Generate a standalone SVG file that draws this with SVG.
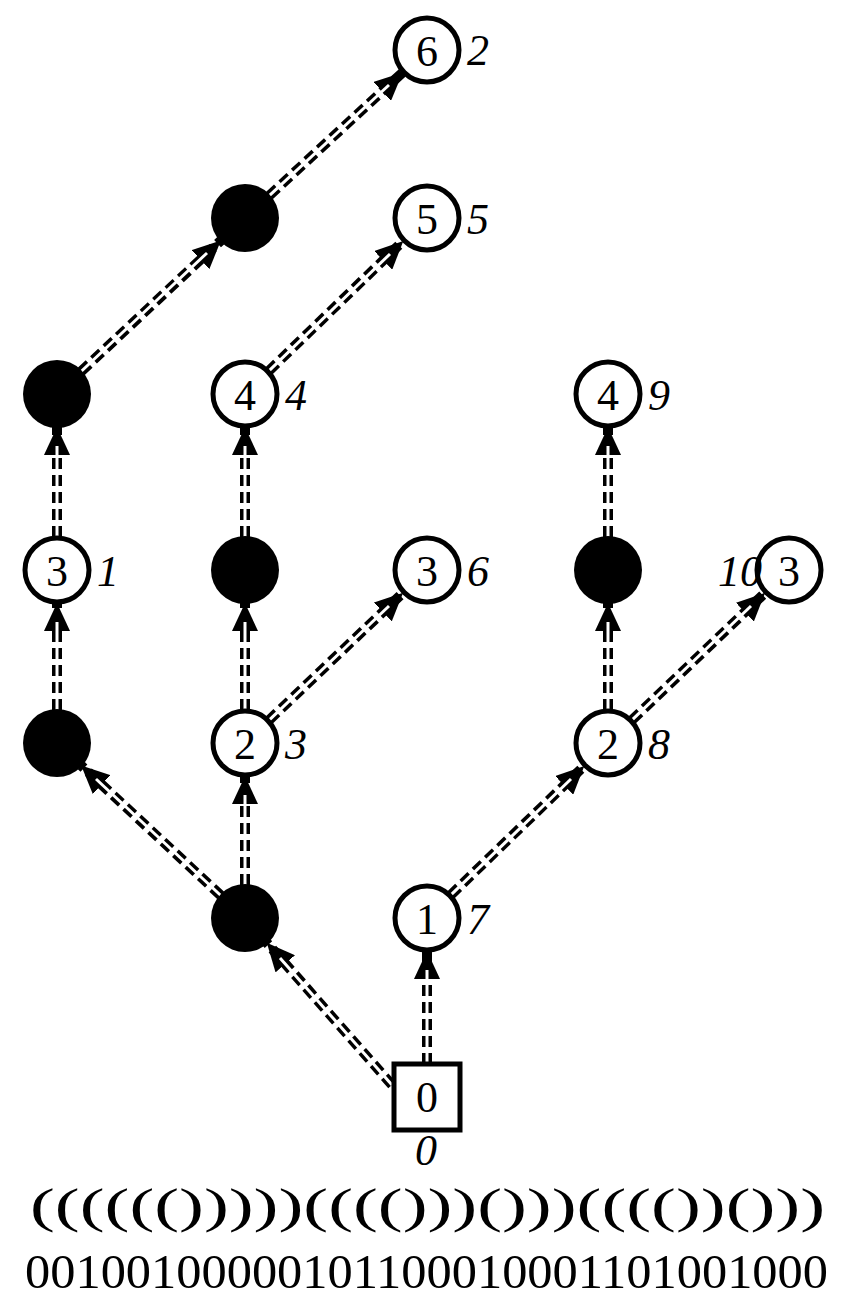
<svg xmlns="http://www.w3.org/2000/svg" width="848" height="1305" viewBox="0 0 848 1305">
<style>
.c{fill:#fff;stroke:#000;stroke-width:5}
.f{fill:#000}
.t{font-family:"Liberation Serif",serif;font-size:44px;text-anchor:middle}
.l{font-family:"Liberation Serif",serif;font-size:44px;font-style:italic}
.e{stroke:#000;stroke-width:10;stroke-dasharray:11 6;fill:none}
.w{stroke:#fff;stroke-width:3;fill:none}
</style>
<defs>
<marker id="a" markerUnits="userSpaceOnUse" markerWidth="30" markerHeight="26" refX="28" refY="13" orient="auto"><path d="M0,0 L28,13 L0,26 Z" fill="#000"/></marker>
</defs>
<rect width="848" height="1305" fill="#fff"/>
<g id="edges">
<g class="e" marker-end="url(#a)">
<path d="M392,1085 L266.8,942.8"/>
<path d="M427,1064 L427,951"/>
<path d="M220.8,895.5 L81.2,765.5"/>
<path d="M245,885 L245,776"/>
<path d="M57,710 L57,603"/>
<path d="M57,537 L57,427"/>
<path d="M81.1,371.5 L220.9,240.5"/>
<path d="M269.3,195.6 L402.7,72.4"/>
<path d="M245,710 L245,603"/>
<path d="M268.9,720.3 L403.1,592.7"/>
<path d="M245,537 L245,427"/>
<path d="M268.7,371.1 L403.3,240.9"/>
<path d="M450.7,895.1 L584.3,765.9"/>
<path d="M608,710 L608,603"/>
<path d="M631.9,720.2 L765.1,592.8"/>
<path d="M608,537 L608,427"/>
</g>
<g class="w">
<path d="M392,1085 L280,958"/>
<path d="M427,1064 L427,970"/>
<path d="M220.8,895.5 L96,779"/>
<path d="M245,885 L245,795"/>
<path d="M57,710 L57,622"/>
<path d="M57,537 L57,446"/>
<path d="M81.1,371.5 L207,253"/>
<path d="M269.3,195.6 L389,85"/>
<path d="M245,710 L245,622"/>
<path d="M268.9,720.3 L389,606"/>
<path d="M245,537 L245,446"/>
<path d="M268.7,371.1 L390,254"/>
<path d="M450.7,895.1 L571,779"/>
<path d="M608,710 L608,622"/>
<path d="M631.9,720.2 L751,606"/>
<path d="M608,537 L608,446"/>
</g>
</g>
<g id="n62"><circle class="c" cx="427" cy="50" r="32"/><text class="t" x="427" y="66">6</text><text class="l" x="467" y="65">2</text></g>
<g id="nf1"><circle class="f" cx="245" cy="218" r="34"/></g>
<g id="n55"><circle class="c" cx="427" cy="218" r="32"/><text class="t" x="427" y="234">5</text><text class="l" x="467" y="234">5</text></g>
<g id="nf2"><circle class="f" cx="57" cy="394" r="34"/></g>
<g id="n44"><circle class="c" cx="245" cy="394" r="32"/><text class="t" x="245" y="410">4</text><text class="l" x="285" y="410">4</text></g>
<g id="n49"><circle class="c" cx="608" cy="394" r="32"/><text class="t" x="608" y="410">4</text><text class="l" x="648" y="410">9</text></g>
<g id="n31"><circle class="c" cx="57" cy="570" r="32"/><text class="t" x="57" y="586">3</text><text class="l" x="97" y="586">1</text></g>
<g id="nf3"><circle class="f" cx="245" cy="570" r="34"/></g>
<g id="n36"><circle class="c" cx="427" cy="570" r="32"/><text class="t" x="427" y="586">3</text><text class="l" x="467" y="586">6</text></g>
<g id="nf4"><circle class="f" cx="608" cy="570" r="34"/></g>
<g id="n310"><circle class="c" cx="789" cy="570" r="32"/><text class="t" x="789" y="586">3</text><text class="l" x="718" y="586">10</text></g>
<g id="nf5"><circle class="f" cx="57" cy="743" r="34"/></g>
<g id="n23"><circle class="c" cx="245" cy="743" r="32"/><text class="t" x="245" y="759">2</text><text class="l" x="285" y="759">3</text></g>
<g id="n28"><circle class="c" cx="608" cy="743" r="32"/><text class="t" x="608" y="759">2</text><text class="l" x="648" y="759">8</text></g>
<g id="nf6"><circle class="f" cx="245" cy="918" r="34"/></g>
<g id="n17"><circle class="c" cx="427" cy="918" r="32"/><text class="t" x="427" y="934">1</text><text class="l" x="467" y="934">7</text></g>
<g id="root"><rect class="c" x="394" y="1064" width="66" height="66"/><text class="t" x="427" y="1112">0</text><text class="l" x="415" y="1165">0</text></g>
<g id="strings">
<text x="30" y="1222" font-family="Liberation Serif,serif" font-size="48" textLength="795" lengthAdjust="spacingAndGlyphs">(((((()))))(((()))()))(((())()))</text>
<text x="25" y="1288" font-family="Liberation Serif,serif" font-size="48" textLength="803" lengthAdjust="spacingAndGlyphs">00100100000101100010001101001000</text>
</g>
</svg>
